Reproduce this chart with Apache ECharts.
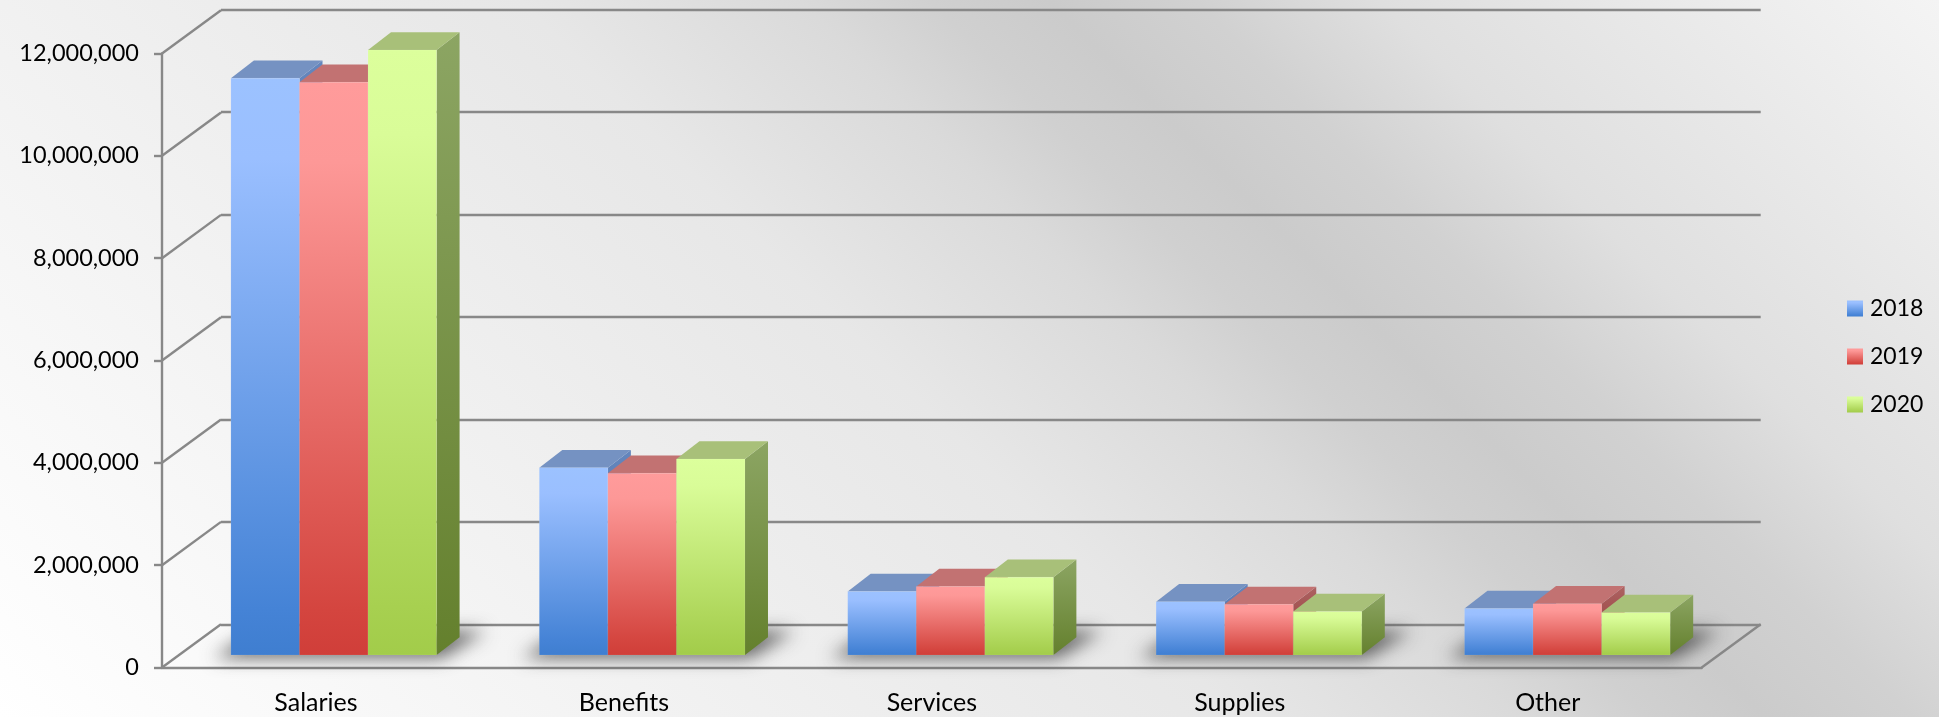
<!DOCTYPE html>
<html>
<head>
<meta charset="utf-8">
<style>html,body{margin:0;padding:0;background:#fff}#chart{width:1939px;height:717px}</style>
<script src="https://cdn.jsdelivr.net/npm/echarts@6/dist/echarts.min.js"></script>
</head>
<body>
<div id="chart"></div>
<script>
// Expense categories and the yearly amounts for each.
const categories = ['Salaries', 'Benefits', 'Services', 'Supplies', 'Other'];
const years = ['2018', '2019', '2020'];
const values2018 = [11270000, 3660000, 1240000, 1040000, 910000];
const values2019 = [11190000, 3550000, 1340000, 990000, 1000000];
const values2020 = [11820000, 3830000, 1520000, 850000, 830000];
const valueTicks = [0, 2000000, 4000000, 6000000, 8000000, 10000000, 12000000];

// Oblique projection used for the floor, the back wall and the columns.
const wallDepth = { x: 59, y: 43.3 };
const barDepth = { x: 23, y: 17.7 };
const barShare = 0.2223;
const labelFont = 'Lato';
const ruleColor = '#888888';
const ruleWidth = 2.4;

const vGrad = (stops) => ({
  type: 'linear', x: 0, y: 0, x2: 0, y2: 1,
  colorStops: stops.map(([offset, color]) => ({ offset, color }))
});
const palettes = [
  {
    front: vGrad([[0, '#9cc2ff'], [0.14, '#9abfff'], [0.92, '#4583d6'], [1, '#3f7ed0']]),
    top: '#7592c2',
    side: vGrad([[0, '#6486bd'], [1, '#3f6aa6']])
  },
  {
    front: vGrad([[0, '#ff9b9b'], [0.14, '#fd9897'], [0.92, '#d4453f'], [1, '#d03e39']]),
    top: '#c27272',
    side: vGrad([[0, '#ad6262'], [1, '#8f3531']])
  },
  {
    front: vGrad([[0, '#dcff9c'], [0.14, '#d9fc98'], [0.92, '#a7d050'], [1, '#a2cc4a']]),
    top: '#a8c079',
    side: vGrad([[0, '#8ca563'], [1, '#64802d']])
  }
];
const seriesValues = [values2018, values2019, values2020];

// One column: front face, top cap and right side in oblique projection.
function renderColumn(seriesIdx) {
  return function (params, api) {
    const cat = api.value(0);
    const base = api.coord([cat, 0]);
    const top = api.coord([cat, api.value(1)]);
    const w = api.size([1, 0])[0] * barShare;
    const x = base[0] + (seriesIdx - 1.5) * w;
    const p = palettes[seriesIdx];
    const dx = barDepth.x, dy = barDepth.y;
    const r = x + w;
    return {
      type: 'group',
      children: [
        {
          type: 'polygon',
          shape: { points: [[r, top[1]], [r + dx, top[1] - dy], [r + dx, base[1] - dy], [r, base[1]]] },
          style: { fill: p.side }
        },
        {
          type: 'polygon',
          shape: { points: [[x, top[1]], [x + dx, top[1] - dy], [r + dx, top[1] - dy], [r, top[1]]] },
          style: { fill: p.top }
        },
        {
          type: 'rect',
          shape: { x: x, y: top[1], width: w, height: base[1] - top[1] },
          style: { fill: p.front, stroke: 'rgba(255,255,255,0.08)', lineWidth: 1 }
        }
      ]
    };
  };
}

// Soft floor shadow below each group of columns.
function renderShadow(params, api) {
  const c = api.coord([api.value(0), 0]);
  const far = 4000;
  return {
    type: 'polygon',
    shape: {
      points: [
        [c[0] - far - 120, c[1] + 3],
        [c[0] - far + 108, c[1] + 3],
        [c[0] - far + 152, c[1] - 24],
        [c[0] - far - 78, c[1] - 24]
      ]
    },
    style: {
      fill: '#444',
      shadowColor: 'rgba(50,50,50,0.72)',
      shadowBlur: 17,
      shadowOffsetX: far
    }
  };
}

// Receding lines joining the front axis to the back wall, plus the floor's right edge.
function renderDepthLines(params, api) {
  const cs = params.coordSys;
  const y = api.coord([0, api.value(0)])[1];
  const line = (x) => ({
    type: 'line',
    shape: { x1: x, y1: y, x2: x + wallDepth.x, y2: y - wallDepth.y },
    style: { stroke: ruleColor, lineWidth: ruleWidth }
  });
  const children = [line(cs.x)];
  if (api.value(0) === 0) children.push(line(cs.x + cs.width));
  return { type: 'group', children };
}

const ruleStyle = { color: ruleColor, width: ruleWidth };

const option = {
  animation: false,
  backgroundColor: {
    type: 'linear', global: true, x: 0, y: 717, x2: 1328, y2: -611,
    colorStops: [
      { offset: 0, color: '#ffffff' },
      { offset: 0.27, color: '#f1f1f1' },
      { offset: 0.466, color: '#e7e7e7' },
      { offset: 0.571, color: '#dadada' },
      { offset: 0.62, color: '#d0d0d0' },
      { offset: 0.665, color: '#cbcbcb' },
      { offset: 0.72, color: '#d1d1d1' },
      { offset: 0.789, color: '#dfdfdf' },
      { offset: 1, color: '#f4f4f4' }
    ]
  },
  textStyle: { fontFamily: labelFont },
  legend: {
    data: years,
    orient: 'vertical',
    left: 1847,
    top: 297,
    icon: 'rect',
    itemWidth: 16,
    itemHeight: 16,
    itemGap: 25,
    padding: 0,
    selectedMode: false,
    textStyle: { fontFamily: labelFont, fontSize: 23, color: '#000', padding: [0, 0, 0, 2] }
  },
  grid: [
    // front plane carrying the visible axes
    { left: 162, top: 53.5, width: 1539.7, height: 614 },
    // back wall carrying the horizontal rules
    { left: 162 + wallDepth.x, top: 9.3, width: 1539.7, height: 615 },
    // plane of the column fronts
    { left: 179.55, top: 40.8, width: 1542, height: 614.2 }
  ],
  xAxis: [
    {
      gridIndex: 0, type: 'category', data: categories,
      axisLine: { lineStyle: ruleStyle },
      axisTick: { length: 8, lineStyle: ruleStyle },
      axisLabel: { fontFamily: labelFont, fontSize: 25, color: '#000', margin: 23 },
      splitLine: { show: false }
    },
    { gridIndex: 1, type: 'category', data: categories, show: false },
    { gridIndex: 2, type: 'category', data: categories, show: false }
  ],
  yAxis: [
    {
      gridIndex: 0, type: 'value', min: 0, max: 12000000, interval: 2000000,
      axisLine: { show: true, lineStyle: ruleStyle },
      axisTick: { show: true, length: 8, lineStyle: ruleStyle },
      axisLabel: {
        fontFamily: labelFont, fontSize: 23.5, color: '#000', margin: 23, padding: [7, 0, 0, 0],
        formatter: (v) => v.toLocaleString('en-US')
      },
      splitLine: { show: false }
    },
    {
      gridIndex: 1, type: 'value', min: 0, max: 12000000, interval: 2000000,
      axisLine: { show: false }, axisTick: { show: false }, axisLabel: { show: false },
      splitLine: { show: true, lineStyle: ruleStyle }
    },
    {
      gridIndex: 2, type: 'value', min: 0, max: 12000000, interval: 2000000, show: false,
      splitLine: { show: false }
    }
  ],
  series: [
    {
      name: 'depth', type: 'custom', coordinateSystem: 'cartesian2d',
      xAxisIndex: 0, yAxisIndex: 0, silent: true, z: 1,
      data: valueTicks.map((v) => [v]),
      encode: { y: 0 },
      renderItem: renderDepthLines
    },
    {
      name: 'floor shadow', type: 'custom', coordinateSystem: 'cartesian2d',
      xAxisIndex: 2, yAxisIndex: 2, silent: true, z: 1,
      data: categories.map((c, i) => [i]),
      encode: { x: 0 },
      renderItem: renderShadow
    },
    ...years.map((year, i) => ({
      name: year, type: 'custom', coordinateSystem: 'cartesian2d',
      xAxisIndex: 2, yAxisIndex: 2, z: 2 + i,
      itemStyle: { color: palettes[i].front },
      data: seriesValues[i].map((v, c) => [c, v]),
      encode: { x: 0, y: 1 },
      renderItem: renderColumn(i)
    }))
  ]
};

echarts.init(document.getElementById('chart')).setOption(option);
</script>
</body>
</html>
